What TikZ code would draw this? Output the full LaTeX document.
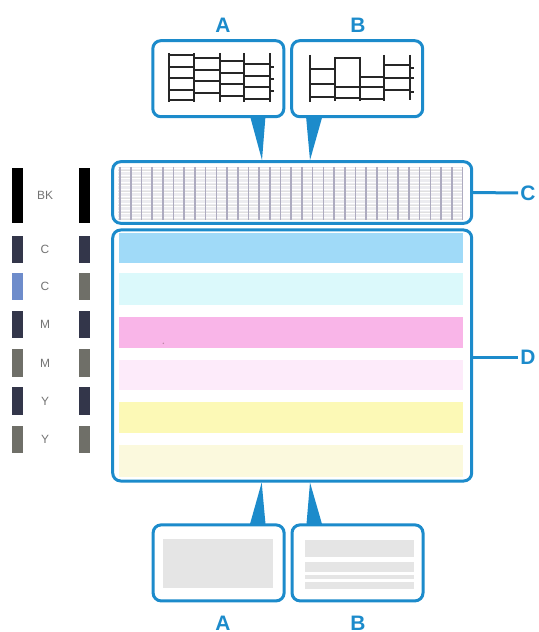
\documentclass[tikz,border=0pt]{standalone}
\usepackage{fontspec}
\setmainfont{Liberation Sans}
\usetikzlibrary{calc}

\definecolor{callout}{HTML}{1C8BCB}
\definecolor{cyanfull}{HTML}{A0DAF8}
\definecolor{cyanpale}{HTML}{DBF9FB}
\definecolor{magfull}{HTML}{F9B5E8}
\definecolor{magpale}{HTML}{FDEBFA}
\definecolor{yelfull}{HTML}{FCF9B6}
\definecolor{yelpale}{HTML}{FBF9DD}
\definecolor{nozzledark}{HTML}{33364A}
\definecolor{nozzlegray}{HTML}{6F6F68}
\definecolor{nozzleblue}{HTML}{6E8CCB}
\definecolor{gridback}{HTML}{ECECF0}
\definecolor{gridline}{HTML}{ADABC0}
\definecolor{blank}{HTML}{E5E5E5}

\tikzset{
  frame/.style={draw=callout, line width=1.5bp, rounded corners=4bp, fill=white, inner sep=0pt},
  letter/.style={text=callout, inner sep=1bp, font=\bfseries\fontsize{10.5}{12}\selectfont},
  inktag/.style={text=black!55, font=\fontsize{6}{7}\selectfont},
  lead/.style={draw=callout, line width=1.5bp},
  ink/.style={black!85, line width=1bp},
}

\begin{document}
\begin{tikzpicture}[x=0.5bp, y=-0.5bp]
	\useasboundingbox (0,0) rectangle (539,632);

	% frames
	\node[frame, minimum width=65.5bp, minimum height=38bp] (topA) at (218.3,78.7) {};
	\node[frame, minimum width=65.5bp, minimum height=38bp] (topB) at (357.2,78.7) {};
	\node[frame, minimum width=179.5bp, minimum height=30.8bp] (frameC) at (292.2,192.5) {};
	\node[frame, minimum width=179.5bp, minimum height=125.5bp] (frameD) at (292.2,355.5) {};
	\node[frame, minimum width=65.5bp, minimum height=38bp] (botA) at (218.6,562.9) {};
	\node[frame, minimum width=65.5bp, minimum height=38bp] (botB) at (357.5,562.9) {};

	% letters
	\node[letter] (labTopA) at (223,25) {A};
	\node[letter] (labTopB) at (358,25) {B};
	\node[letter] (labC) at (528,193) {C};
	\node[letter] (labD) at (528,357) {D};
	\node[letter] (labBotA) at (223,623) {A};
	\node[letter] (labBotB) at (358,623) {B};

	\draw[lead] (frameC.east) -- (labC.west);
	\draw[lead] (frameD.east |- labD.west) -- (labD.west);

	% pointers
	\fill[callout] (250,116) -- (265.5,116) -- (262,0 |- frameC.north) -- cycle;
	\fill[callout] (306,116) -- (322.5,116) -- (310,0 |- frameC.north) -- cycle;
	\fill[callout] (250,524) -- (265.5,524) -- (261.7,0 |- frameD.south) -- cycle;
	\fill[callout] (306.5,524) -- (322,524) -- (310,0 |- frameD.south) -- cycle;

	% pattern C
	\fill[gridback] (118,167) rectangle (463,220);
	\foreach \y in {168.5,172,...,219}
		\draw[white, line width=0.5bp] (118,\y) -- (463,\y);
	\foreach \y in {170,177,...,219}
		\draw[black!12, line width=0.4bp] (118,\y) -- (463,\y);
	\foreach \i in {0,...,32}
		\draw[gridline, line width=0.8bp] (120+10.7*\i,167) -- (120+10.7*\i,220);

	% pattern D
	\fill[cyanfull] (119.3,233.3) rectangle (462.7,263.3);
	\fill[cyanpale] (119.3,273.3) rectangle (462.7,305);
	\fill[magfull] (119.3,316.7) rectangle (462.7,347.7);
	\fill[magpale] (119.3,360) rectangle (462.7,390);
	\fill[yelfull] (119.3,401.7) rectangle (462.7,433.3);
	\fill[yelpale] (119.3,445) rectangle (462.7,476.7);
	\fill[magenta!50!black!60] (163.3,343.3) circle (0.8);

	% nozzle columns
	\foreach \ya/\yb/\cl/\cr/\tag in {168.3/223.3/black/black/BK,
			236/263.3/nozzledark/nozzledark/C,
			273.3/300/nozzleblue/nozzlegray/C,
			311/338.3/nozzledark/nozzledark/M,
			349.3/376.7/nozzlegray/nozzlegray/M,
			387.3/415/nozzledark/nozzledark/Y,
			426/453.3/nozzlegray/nozzlegray/Y} {
		\fill[\cl] (11.7,\ya) rectangle (22.7,\yb);
		\fill[\cr] (79.3,\ya) rectangle (90,\yb);
		\node[inktag] at (45,{(\ya+\yb)/2}) {\tag};
	}

	% pattern A, top
	\foreach \x in {169,194.3,220,244.3,270}
		\draw[ink] (\x,53.3) -- (\x,101.7);
	\foreach \i/\xa/\xb in {0/169/194.3, 1/194.3/220, 2/220/244.3, 3/244.3/270}
		\foreach \k in {0,...,3}
			\draw[ink] (\xa,55+3*\i+11.6*\k) -- (\xb,55+3*\i+11.6*\k);
	\draw[ink] (169,100.5) -- (194.3,100.5);
	\foreach \y in {66.7,79,91.5}
		\draw[ink] (270,\y) -- (274,\y);

	% pattern B, top
	\draw[ink] (310,55) -- (310,101.7);
	\draw[ink] (335,57) -- (335,101);
	\draw[ink] (360,57) -- (360,101);
	\draw[ink] (384.3,55) -- (384.3,101);
	\draw[ink] (410,55) -- (410,100);
	\foreach \y in {69,84.3,96.7}
		\draw[ink] (310,\y) -- (335,\y);
	\foreach \y in {58.3,86.7,97.7}
		\draw[ink] (335,\y) -- (360,\y);
	\foreach \y in {76.7,86.7,98.6}
		\draw[ink] (360,\y) -- (384.3,\y);
	\foreach \y in {65,78.3,90}
		\draw[ink] (384.3,\y) -- (410,\y);
	\foreach \y in {67.7,78.3,91.7}
		\draw[ink] (410,\y) -- (414,\y);

	% blank areas, bottom
	\fill[blank] (163.3,539.3) rectangle (273.3,588.3);
	\fill[blank] (305,540) rectangle (414,557.3);
	\fill[blank] (305,561.7) rectangle (414,571.7);
	\fill[blank] (305,575) rectangle (414,579.3);
	\fill[blank] (305,581.7) rectangle (414,589);
\end{tikzpicture}
\end{document}
